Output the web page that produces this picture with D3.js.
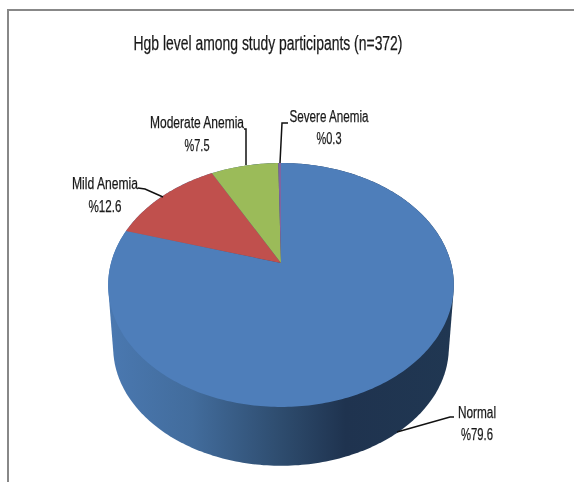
<!DOCTYPE html>
<html>
<head>
<meta charset="utf-8">
<script src="https://cdn.jsdelivr.net/npm/d3@7"></script>
<style>
html, body { margin: 0; padding: 0; background: #fff; }
svg { display: block; }
text { font-family: "Liberation Sans", sans-serif; fill: #1a1a1a; stroke: #1a1a1a; stroke-width: 0.25px; }
</style>
</head>
<body>
<div id="chart"></div>
<script>
const categories = ['Normal', 'Mild Anemia', 'Moderate Anemia', 'Severe Anemia'];
const values = [79.6, 12.6, 7.5, 0.3];
const colors = ['#4e7eba', '#c0504d', '#9bbb59', '#8064a2'];
const title = 'Hgb level among study participants (n=372)';

const width = 574, height = 482;
const svg = d3.select('#chart').append('svg')
  .attr('width', width)
  .attr('height', height);

const defs = svg.append('defs');
defs.append('filter').attr('id', 'soft')
  .append('feGaussianBlur').attr('stdDeviation', 0.3);

// frame: only top and left sides show in the picture
svg.append('path')
  .attr('d', 'M8,482V10H574')
  .attr('fill', 'none')
  .attr('stroke', '#888')
  .attr('stroke-width', 2);

// no narrow font here, so text is squeezed to the widths in the picture
function addText(x, y, size, len, str) {
  svg.append('text')
    .attr('x', x).attr('y', y)
    .attr('text-anchor', 'middle')
    .attr('font-size', size)
    .attr('textLength', len)
    .attr('lengthAdjust', 'spacingAndGlyphs')
    .attr('filter', 'url(#soft)')
    .text(str);
}

addText(268, 50, 20, 269, title);

// the pie is tilted with some perspective, so the apex sits above the ellipse centre
const cx = 281, cy = 263;
const rX = 170, rY = 118, dist = 5.545;
const wallScale = 0.971, wallDrop = 63;

function project(angle) {
  const u = Math.sin(angle), v = -Math.cos(angle);
  const s = dist / (dist - v);
  return [cx + rX * u * s, cy + rY * v * s];
}

function projectBottom(angle) {
  const p = project(angle);
  return [cx + (p[0] - cx) * wallScale, cy + wallDrop + (p[1] - cy) * wallScale];
}

const slices = d3.pie().sort(null).value(d => d)(values);
const line = d3.line();

// side wall: hull of top and bottom rims
const grad = defs.append('linearGradient')
  .attr('id', 'wall')
  .attr('gradientUnits', 'userSpaceOnUse')
  .attr('x1', cx - rX).attr('x2', cx + rX)
  .attr('y1', 0).attr('y2', 0);
[[0, '#4a78b0'], [0.24, '#426c9c'], [0.5, '#2e4c6e'], [0.69, '#1f334f'], [1, '#203752']].forEach(s => {
  grad.append('stop').attr('offset', s[0]).attr('stop-color', s[1]);
});

const sweep = d3.range(0, 360, 1).map(d => d * Math.PI / 180);
const hull = d3.polygonHull(sweep.map(project).concat(sweep.map(projectBottom)));
svg.append('path')
  .attr('d', line(hull) + 'Z')
  .attr('fill', 'url(#wall)');

// top face
function slicePath(d) {
  const n = Math.max(2, Math.ceil((d.endAngle - d.startAngle) * 60));
  const pts = d3.range(n + 1).map(i => project(d.startAngle + (d.endAngle - d.startAngle) * i / n));
  return line([[cx, cy]].concat(pts)) + 'Z';
}

svg.selectAll('path.slice')
  .data(slices)
  .join('path')
  .attr('class', 'slice')
  .attr('d', slicePath)
  .attr('fill', (d, i) => colors[i]);

// labels, leader lines go from text to the slice edge
const labels = [
  { x: 477, y: 418, dy: 22, w: 38, w2: 32, leader: [[454, 417], [450, 417], [397, 432]] },
  { x: 105, y: 189, dy: 23, w: 66, w2: 33, leader: [[138, 188], [145, 189], [163, 197]] },
  { x: 197, y: 128, dy: 23, w: 94, w2: 25, leader: [[244, 129], [246, 129], [246, 165]] },
  { x: 329, y: 122, dy: 22, w: 79, w2: 25, leader: [[288, 123], [282, 123], [280, 163]] }
];

svg.selectAll('path.leader')
  .data(labels)
  .join('path')
  .attr('class', 'leader')
  .attr('d', d => line(d.leader))
  .attr('fill', 'none')
  .attr('stroke', '#111')
  .attr('stroke-width', 1.5);

labels.forEach((l, i) => {
  addText(l.x, l.y, 16, l.w, categories[i]);
  addText(l.x, l.y + l.dy, 16, l.w2, '%' + values[i]);
});
</script>
</body>
</html>
